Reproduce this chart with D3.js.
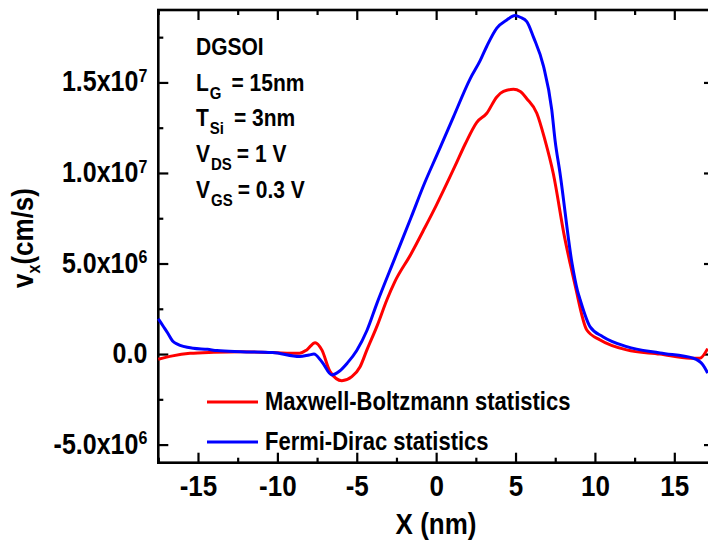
<!DOCTYPE html>
<html><head><meta charset="utf-8">
<script src="https://cdn.jsdelivr.net/npm/d3@7"></script>
<style>
body{margin:0;background:#fff}
text{font-family:"Liberation Sans",Arial,sans-serif;font-weight:bold;fill:#000}
</style>
</head><body>
<svg id="c" width="708" height="542"></svg>
<script>
// ---- data (x in nm, velocity in 1e6 cm/s) ----
const mbX = [-17.5,-16.6,-15.5,-14,-12.3,-10.3,-8.6,-8.15,-7.62,-7.2,-6.68,-5.94,-5.31,-4.79,-4.36,-3.7,-3.1,-2.6,-1.6,-0.7,0,1.2,1.83,2.56,3.19,3.82,4.24,4.87,5.3,5.71,6.34,6.86,7.37,8.1,8.44,8.75,9.49,10.33,12.0,14.1,16.0,16.6,17.1];
const mbY = [-0.29,-0.1,0.04,0.1,0.13,0.08,0.04,0.23,0.63,0.23,-0.97,-1.47,-1.25,-0.7,0.23,1.6,3.0,4.0,5.5,7.0,8.2,10.4,11.6,12.8,13.3,14.2,14.5,14.62,14.5,14.1,13.3,11.8,10.0,6.4,5.0,3.8,1.33,0.78,0.23,0.0,-0.23,-0.23,0.3];
const fdX = [-17.5,-17.2,-16.9,-16.6,-16.3,-15.3,-14.4,-13.8,-12.3,-10.3,-8.6,-8.0,-7.7,-7.2,-6.57,-6.1,-5.6,-5.0,-4.36,-3.73,-2.6,-1.6,-0.7,0,0.25,1.09,2.14,2.77,3.19,3.82,4.45,4.97,5.3,5.71,6.13,6.76,7.28,7.49,7.8,8.56,8.9,9.07,9.7,10.5,12.0,14.1,16.2,16.8,17.1];
const fdY = [1.95,1.55,1.15,0.72,0.55,0.32,0.26,0.19,0.13,0.08,-0.14,-0.05,0.0,-0.42,-1.15,-0.95,-0.5,0.2,1.3,2.8,5.3,7.5,9.5,10.9,11.4,13.1,15.2,16.2,17.0,18.0,18.45,18.7,18.6,18.36,17.5,15.9,13.5,11.8,10.0,5.0,3.5,3.0,1.5,0.96,0.41,0.06,-0.23,-0.6,-1.05];
const seriesNames = ["Maxwell-Boltzmann statistics","Fermi-Dirac statistics"];
const seriesColors = ["#ff0000","#0000ff"];
const xTicks = [-15,-10,-5,0,5,10,15];
const xMinor = [-17.5,-12.5,-7.5,-2.5,2.5,7.5,12.5,17.5];
const yTicks = [-5e6,0,5e6,1e7,1.5e7];
const yMinor = [-2.5e6,2.5e6,7.5e6,1.25e7,1.75e7];
const yTickMant = ["-5.0x10","0.0","5.0x10","1.0x10","1.5x10"];
const yTickExp = ["6","","6","7","7"];
const annot = [["DGSOI",""],["L","G","= 15nm"],["T","Si","= 3nm"],["V","DS","= 1 V"],["V","GS","= 0.3 V"]];
const annotGap = [0,10,10,5,5];

const S = 1.15; // vertical stretch of the lettering
const svg = d3.select("#c");
const L=158.3, R=714, T=10, B=462.7;
const x = d3.scaleLinear().domain([-17.5,17.5]).range([L,R]);
const y = d3.scaleLinear().domain([-6e6,1.9e7]).range([B,T]);
const stretch = by => `translate(0,${by*(1-S)}) scale(1,${S})`;

// frame
svg.append("rect").attr("x",L).attr("y",T).attr("width",R-L).attr("height",B-T)
  .attr("fill","none").attr("stroke","#000").attr("stroke-width",2.6);

function styleAxis(g){ g.select(".domain").remove(); g.selectAll(".tick line").attr("stroke","#000").attr("stroke-width",2.2); }

// bottom
const gb = svg.append("g").attr("transform",`translate(0,${B})`)
  .call(d3.axisBottom(x).tickValues(xTicks).tickSize(-10).tickPadding(15).tickFormat(d=>d));
styleAxis(gb);
gb.selectAll("text").attr("font-size",26).attr("dy",null).attr("y",15+0.71*26)
  .style("font-family",'"Liberation Sans",Arial,sans-serif').style("font-weight","bold")
  .attr("transform",stretch(15+0.71*26));
svg.append("g").attr("transform",`translate(0,${B})`).call(d3.axisBottom(x).tickValues(xMinor).tickSize(-5).tickFormat("")).call(styleAxis);
// top
svg.append("g").attr("transform",`translate(0,${T})`).call(d3.axisTop(x).tickValues(xTicks).tickSize(-10).tickFormat("")).call(styleAxis);
svg.append("g").attr("transform",`translate(0,${T})`).call(d3.axisTop(x).tickValues(xMinor).tickSize(-5).tickFormat("")).call(styleAxis);
// left
const gl = svg.append("g").attr("transform",`translate(${L},0)`)
  .call(d3.axisLeft(y).tickValues(yTicks).tickSize(-10).tickPadding(11).tickFormat((d,i)=>yTickMant[i]));
styleAxis(gl);
gl.selectAll("text").attr("font-size",25).attr("dy",null).attr("y",8.5)
  .style("font-family",'"Liberation Sans",Arial,sans-serif').style("font-weight","bold")
  .attr("transform",stretch(8.5))
  .each(function(d,i){
    const t=d3.select(this); const m=yTickMant[i], e=yTickExp[i];
    t.text(null);
    t.append("tspan").text(m);
    if(e) t.append("tspan").attr("dy","-0.5em").attr("font-size",16).text(e);
  });
svg.append("g").attr("transform",`translate(${L},0)`).call(d3.axisLeft(y).tickValues(yMinor).tickSize(-5).tickFormat("")).call(styleAxis);
// right
svg.append("g").attr("transform",`translate(${R},0)`).call(d3.axisRight(y).tickValues(yTicks).tickSize(-10).tickFormat("")).call(styleAxis);
svg.append("g").attr("transform",`translate(${R},0)`).call(d3.axisRight(y).tickValues(yMinor).tickSize(-5).tickFormat("")).call(styleAxis);

// lines
const line = d3.line().curve(d3.curveMonotoneX).x(d=>x(d[0])).y(d=>y(d[1]*1e6));
const series = [d3.zip(mbX,mbY), d3.zip(fdX,fdY)];
series.forEach((s,i)=>{
  svg.append("path").datum(s).attr("d",line).attr("fill","none")
    .attr("stroke",seriesColors[i]).attr("stroke-width",3).attr("stroke-linejoin","round");
});

// legend
const legY=[402,442];
seriesNames.forEach((n,i)=>{
  svg.append("line").attr("x1",207).attr("x2",258).attr("y1",legY[i]).attr("y2",legY[i])
    .attr("stroke",seriesColors[i]).attr("stroke-width",3);
  svg.append("text").attr("x",265).attr("y",legY[i]+8).attr("font-size",22)
    .attr("transform",stretch(legY[i]+8)).text(n);
});

// annotation
annot.forEach((a,i)=>{
  const by = 55+i*35.7;
  const t=svg.append("text").attr("x",196).attr("y",by).attr("font-size",21).attr("transform",stretch(by));
  t.append("tspan").text(a[0]);
  if(a[1]){
    t.append("tspan").attr("dx",1).attr("dy",7).attr("font-size",15).text(a[1]);
    t.append("tspan").attr("dx",annotGap[i]).attr("dy",-7).text(a[2]);
  }
});

// axis titles
svg.append("text").attr("x",436).attr("y",534).attr("text-anchor","middle").attr("font-size",26)
  .attr("transform",stretch(534)).text("X (nm)");
const yt = svg.append("text").attr("transform",`translate(33,238) rotate(-90) scale(1,${S})`).attr("text-anchor","middle").attr("font-size",26);
yt.append("tspan").text("v");
yt.append("tspan").attr("dy",6).attr("font-size",16).text("x");
yt.append("tspan").attr("dy",-6).text("(cm/s)");
</script>
</body></html>
